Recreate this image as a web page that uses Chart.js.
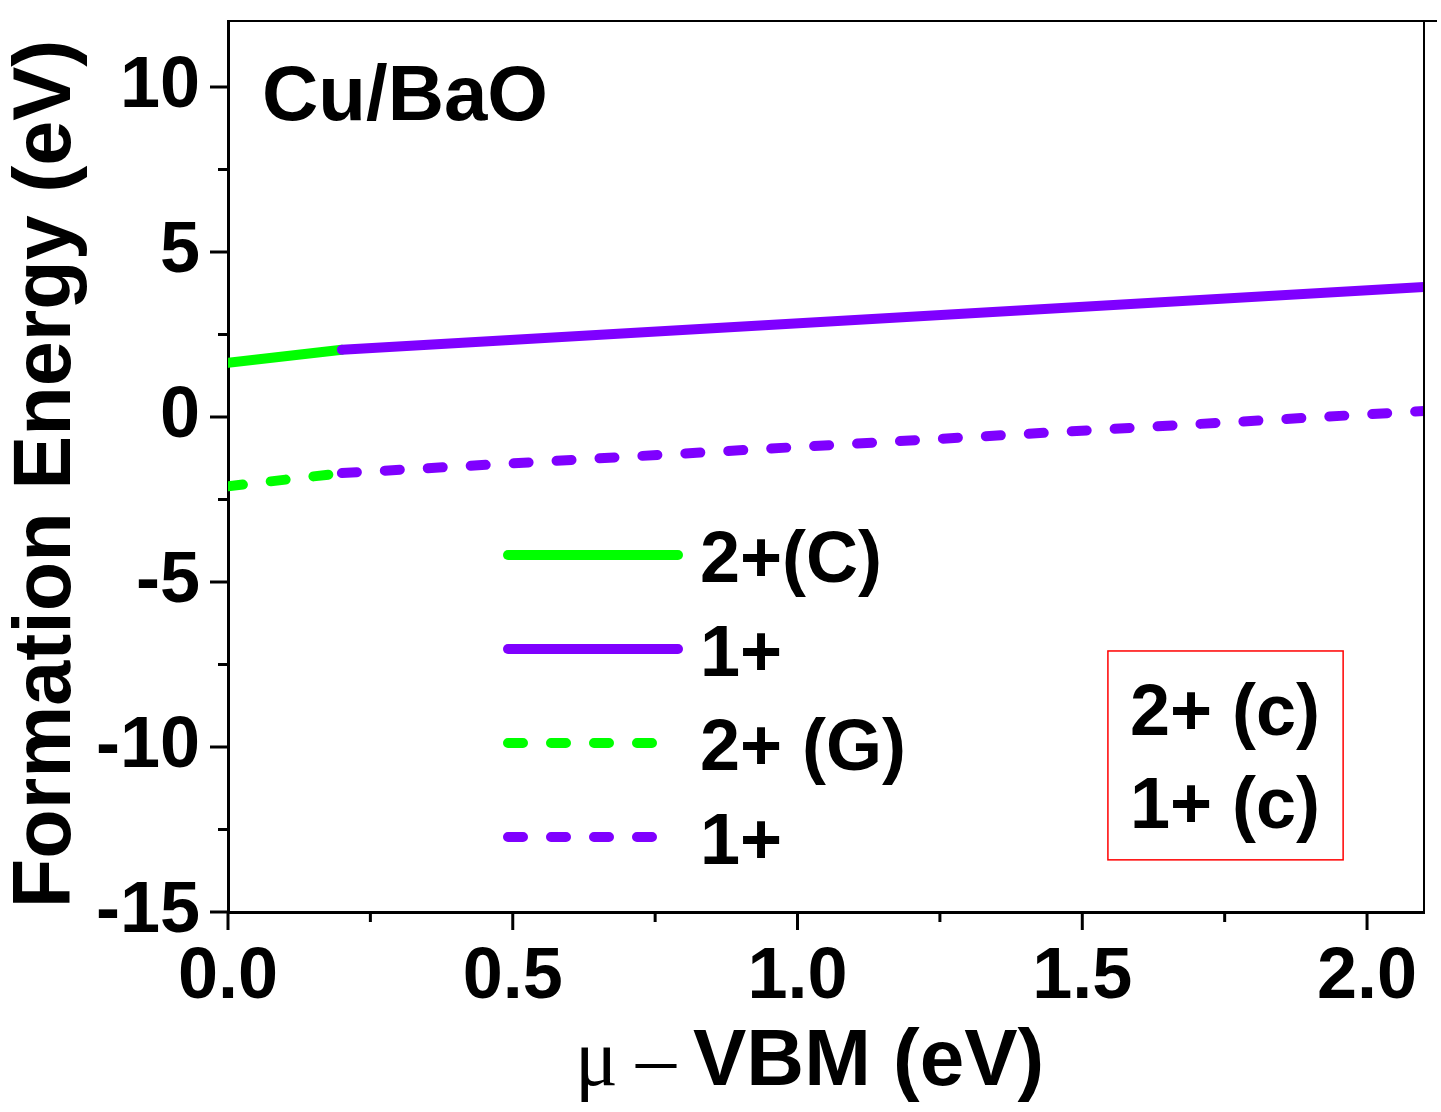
<!DOCTYPE html>
<html><head><meta charset="utf-8">
<script src="https://cdn.jsdelivr.net/npm/chart.js@4/dist/chart.umd.min.js"></script>
<style>html,body{margin:0;padding:0;background:#fff;overflow:hidden}#wrap{width:1441px;height:1112px}</style>
</head><body><div id="wrap"><canvas id="c" width="1441" height="1112" style="width:1441px;height:1112px"></canvas></div>
<script>
// ---- data ----
const seriesLabels = ['2+(C)', '1+', '2+ (G)', '1+'];
const muC2 = [0.0, 0.2];  const eC2 = [1.64, 2.04];
const muC1 = [0.2, 2.1];  const eC1 = [2.04, 3.94];
const muG2 = [0.0, 0.2];  const eG2 = [-2.10, -1.70];
const muG1 = [0.2, 2.1];  const eG1 = [-1.70, 0.18];
const xTicks = [0.0, 0.5, 1.0, 1.5, 2.0];
const xMinor = [0.25, 0.75, 1.25, 1.75];
const yTicks = [-15, -10, -5, 0, 5, 10];
const yMinor = [-12.5, -7.5, -2.5, 2.5, 7.5];
const panelLabel = 'Cu/BaO';
const boxLabels = ['2+ (c)', '1+ (c)'];
const xTitleParts = ['\u03bc', '\u2013', 'VBM (eV)'];
const yTitle = 'Formation Energy (eV)';

const GREEN = '#00ff00', PURPLE = '#7f00ff';
const SANS = '"Liberation Sans", Arial, Helvetica, sans-serif';
const SERIF = '"Liberation Serif", "Times New Roman", serif';
const toPts = (xs, ys) => xs.map((x, i) => ({x, y: ys[i]}));
const DASH = [15, 28];

const datasets = [
  {label: seriesLabels[0], data: toPts(muC2, eC2), borderColor: GREEN, order: 2},
  {label: seriesLabels[1], data: toPts(muC1, eC1), borderColor: PURPLE, order: 1},
  {label: seriesLabels[2], data: toPts(muG2, eG2), borderColor: GREEN, borderDash: DASH, order: 2},
  {label: seriesLabels[3], data: toPts(muG1, eG1), borderColor: PURPLE, borderDash: DASH, order: 1},
].map(d => Object.assign({borderWidth: 10, pointRadius: 0, borderCapStyle: 'round', fill: false, tension: 0, clip: 0, borderDash: []}, d));

const decor = {
  id: 'decor',
  afterDraw(chart) {
    const ctx = chart.ctx, a = chart.chartArea, xs = chart.scales.x, ys = chart.scales.y;
    ctx.save();
    // frame top/right
    ctx.strokeStyle = '#000'; ctx.lineWidth = 2;
    ctx.beginPath(); ctx.moveTo(a.left, a.top); ctx.lineTo(a.right + 13, a.top); ctx.stroke();
    ctx.beginPath(); ctx.moveTo(a.right, a.top); ctx.lineTo(a.right, a.bottom); ctx.stroke();
    // ticks
    ctx.lineWidth = 3; ctx.lineCap = 'butt';
    const tick = (vals, len, isX) => vals.forEach(v => {
      ctx.beginPath();
      if (isX) { const p = xs.getPixelForValue(v); ctx.moveTo(p, a.bottom); ctx.lineTo(p, a.bottom + len); }
      else { const p = ys.getPixelForValue(v); ctx.moveTo(a.left, p); ctx.lineTo(a.left - len, p); }
      ctx.stroke();
    });
    tick(xTicks, 18, true); tick(xMinor, 10, true);
    tick(yTicks, 18, false); tick(yMinor, 10, false);

    // panel label
    ctx.fillStyle = '#000'; ctx.textBaseline = 'alphabetic'; ctx.textAlign = 'left';
    ctx.font = 'bold 78px ' + SANS;
    ctx.fillText(panelLabel, a.left + 34, a.top + 99);

    // legend
    const rows = [555, 649, 743, 837];
    chart.data.datasets.forEach((ds, i) => {
      const y = rows[i];
      const dashed = ds.borderDash && ds.borderDash.length;
      ctx.save();
      ctx.strokeStyle = ds.borderColor; ctx.lineWidth = ds.borderWidth; ctx.lineCap = 'round';
      ctx.setLineDash(dashed ? ds.borderDash : []);
      ctx.beginPath(); ctx.moveTo(508, y); ctx.lineTo(dashed ? 652 : 678, y); ctx.stroke();
      ctx.restore();
      ctx.font = 'bold 72px ' + SANS; ctx.fillStyle = '#000';
      ctx.fillText(ds.label, 700, y + 27);
    });

    // red note box (data coords)
    const bx0 = xs.getPixelForValue(1.545), bx1 = xs.getPixelForValue(1.958);
    const by0 = ys.getPixelForValue(-7.09), by1 = ys.getPixelForValue(-13.42);
    ctx.strokeStyle = '#ff0000'; ctx.lineWidth = 1.5;
    ctx.strokeRect(bx0, by0, bx1 - bx0, by1 - by0);
    ctx.font = 'bold 72px ' + SANS; ctx.fillStyle = '#000';
    ctx.fillText(boxLabels[0], bx0 + 22, by0 + 84);
    ctx.fillText(boxLabels[1], bx0 + 22, by0 + 177);

    // x title
    ctx.font = '80px ' + SERIF;
    ctx.fillText(xTitleParts[0], 575, 1085);
    ctx.fillText(xTitleParts[1], 636, 1085);
    ctx.font = 'bold 80px ' + SANS;
    ctx.fillText(xTitleParts[2], 693, 1085);

    // y title
    ctx.save();
    ctx.translate(70, 474); ctx.rotate(-Math.PI / 2);
    ctx.textAlign = 'center'; ctx.font = 'bold 81px ' + SANS;
    ctx.fillText(yTitle, 0, 0);
    ctx.restore();
    ctx.restore();
  }
};

const tickFont = {family: SANS, size: 72, weight: 'bold', lineHeight: 1.0};

new Chart(document.getElementById('c'), {
  type: 'line',
  data: {datasets},
  options: {
    responsive: false, animation: false, devicePixelRatio: 1,
    layout: {padding: {top: 21, right: 17, bottom: 0, left: 0}},
    plugins: {legend: {display: false}, tooltip: {enabled: false}},
    scales: {
      x: {
        type: 'linear', min: 0, max: 2.1,
        afterBuildTicks: s => { s.ticks = xTicks.map(v => ({value: v})); },
        afterFit: s => { s.height = 200; s.paddingLeft = 0; s.paddingRight = 0; },
        ticks: {callback: v => Number(v).toFixed(1), font: tickFont, color: '#000', padding: 30, maxRotation: 0, autoSkip: false},
        grid: {display: false, drawTicks: false},
        border: {display: true, color: '#000', width: 3}
      },
      y: {
        type: 'linear', min: -15, max: 12,
        afterBuildTicks: s => { s.ticks = yTicks.map(v => ({value: v})); },
        afterFit: s => { s.width = 228; s.paddingTop = 0; s.paddingBottom = 0; },
        ticks: {callback: v => String(v), font: tickFont, color: '#000', padding: 28, autoSkip: false},
        grid: {display: false, drawTicks: false},
        border: {display: true, color: '#000', width: 3}
      }
    }
  },
  plugins: [decor]
});
</script></body></html>
